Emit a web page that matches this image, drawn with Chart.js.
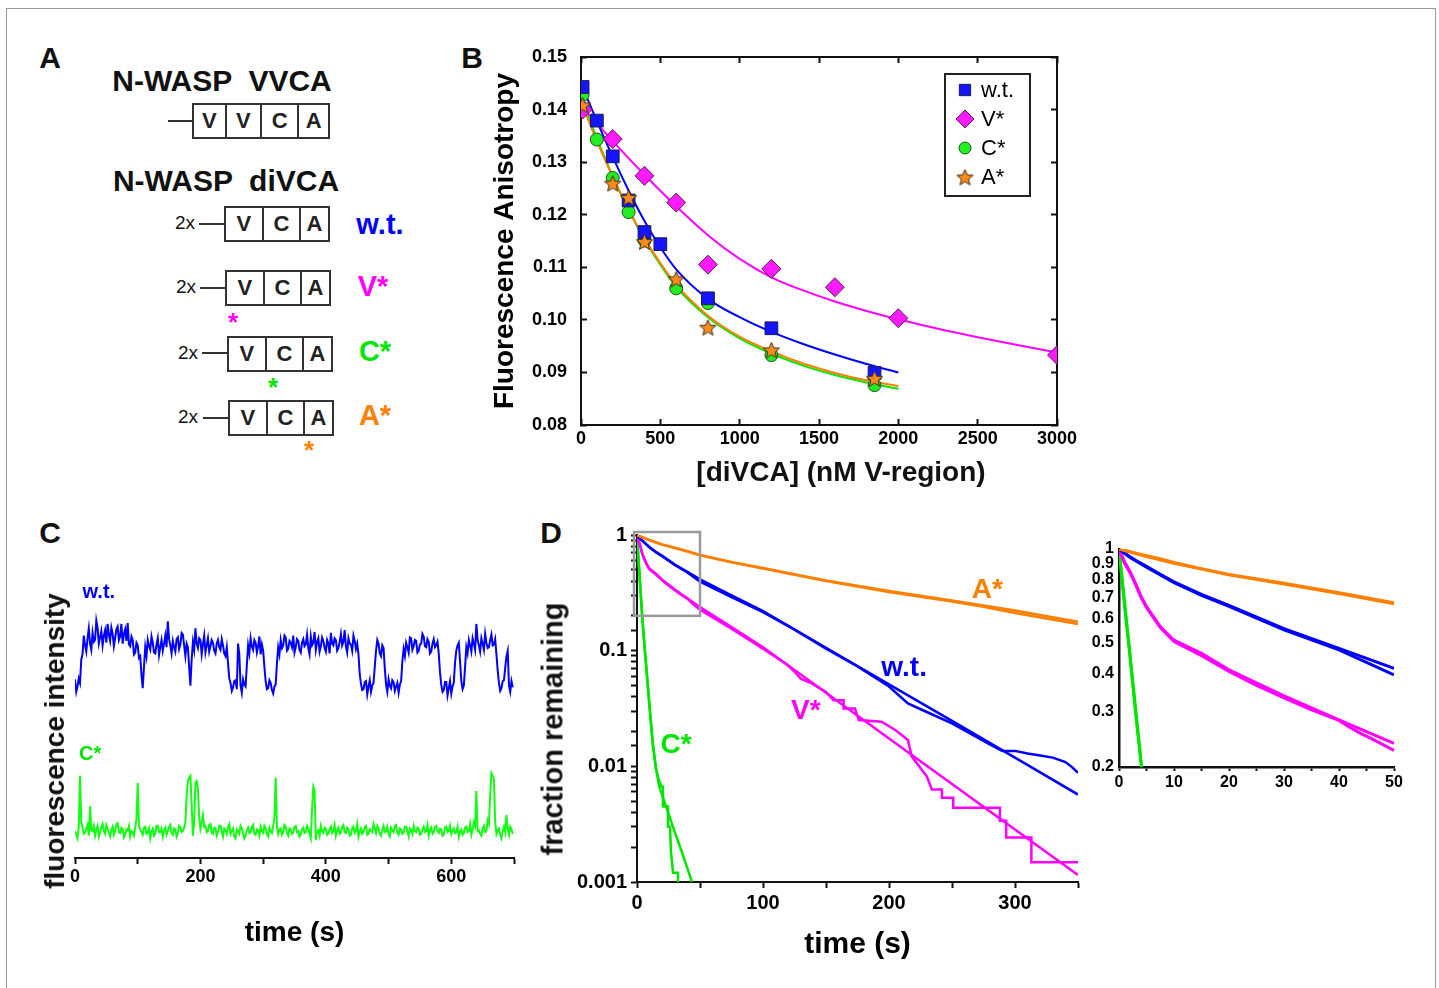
<!DOCTYPE html>
<html lang="en">

<head>
    <meta charset="UTF-8">
    <title>N-WASP diVCA</title>
    <script src="https://cdn.jsdelivr.net/npm/chart.js"></script>
    <style>
        body {
            margin: 0;
            background: #fff;
            font-family: "Liberation Sans", Arial, sans-serif;
            color: #111;
        }

        #page {
            position: relative;
            width: 1439px;
            height: 988px;
            overflow: hidden;
        }

        .frame {
            position: absolute;
            left: 6px;
            top: 8px;
            width: 1428px;
            height: 1000px;
            border: 1px solid #999;
        }

        canvas {
            position: absolute;
        }

        .t {
            position: absolute;
            transform: translate(-50%, -50%);
            white-space: pre;
            line-height: 1;
            font-weight: bold;
        }

        .panel { font-size: 30px; }
        .head { font-size: 30px; }
        .two { font-size: 19px; font-weight: normal; }
        .tag { font-size: 29px; }
        .star { font-size: 26px; }
        .ytitle { transform: translate(-50%, -50%) rotate(-90deg); }

        .stem {
            position: absolute;
            height: 2px;
            background: #333;
        }

        .box {
            position: absolute;
            display: flex;
            height: 36px;
            border: 2px solid #333;
            box-sizing: border-box;
        }

        .box span {
            display: flex;
            align-items: center;
            justify-content: center;
            border-left: 2px solid #333;
            font-weight: bold;
            font-size: 22px;
            color: #222;
        }

        .box span:first-child {
            border-left: none;
        }
    </style>
</head>

<body>
    <div id="page">
        <div class="frame"></div>

        <!-- panel letters -->
        <div class="t panel" style="left:50px;top:58px">A</div>
        <div class="t panel" style="left:472px;top:58px">B</div>
        <div class="t panel" style="left:50px;top:533px">C</div>
        <div class="t panel" style="left:551px;top:533px">D</div>

        <!-- panel A: constructs -->
        <div class="t head" style="left:222px;top:81px">N-WASP  VVCA</div>
        <div class="stem" style="left:168px;top:120px;width:25px"></div>
        <div class="box" style="left:192px;top:103px;width:138px">
            <span style="width:32px">V</span><span style="width:35px">V</span><span style="width:37px">C</span><span style="width:30px">A</span>
        </div>

        <div class="t head" style="left:226px;top:181px">N-WASP  diVCA</div>

        <div class="t two" style="left:185px;top:222px">2x</div>
        <div class="stem" style="left:199px;top:223px;width:25px"></div>
        <div class="box" style="left:224px;top:206px;width:106px">
            <span style="width:37px">V</span><span style="width:37px">C</span><span style="width:28px">A</span>
        </div>
        <div class="t tag" style="left:380px;top:224px;color:#0000ff">w.t.</div>

        <div class="t two" style="left:186px;top:286px">2x</div>
        <div class="stem" style="left:200px;top:287px;width:25px"></div>
        <div class="box" style="left:225px;top:270px;width:106px">
            <span style="width:37px">V</span><span style="width:37px">C</span><span style="width:28px">A</span>
        </div>
        <div class="t star" style="left:233px;top:322px;color:#ff00ff">*</div>
        <div class="t tag" style="left:373px;top:286px;color:#ff00ff">V*</div>

        <div class="t two" style="left:188px;top:352px">2x</div>
        <div class="stem" style="left:202px;top:352px;width:25px"></div>
        <div class="box" style="left:227px;top:336px;width:106px">
            <span style="width:37px">V</span><span style="width:37px">C</span><span style="width:28px">A</span>
        </div>
        <div class="t star" style="left:273px;top:387px;color:#00e600">*</div>
        <div class="t tag" style="left:375px;top:351px;color:#00e600">C*</div>

        <div class="t two" style="left:188px;top:416px">2x</div>
        <div class="stem" style="left:203px;top:417px;width:25px"></div>
        <div class="box" style="left:228px;top:400px;width:106px">
            <span style="width:37px">V</span><span style="width:37px">C</span><span style="width:28px">A</span>
        </div>
        <div class="t star" style="left:309px;top:450px;color:#ff8000">*</div>
        <div class="t tag" style="left:375px;top:415px;color:#ff8000">A*</div>

        <!-- charts -->
        <canvas id="chartB" width="620" height="460" style="left:470px;top:40px"></canvas>
        <div class="t" style="left:841px;top:472px;font-size:28px">[diVCA] (nM V-region)</div>

        <canvas id="chartC" width="500" height="380" style="left:30px;top:580px"></canvas>
        <div class="t ytitle" style="left:55px;top:741px;font-size:28px">fluorescence intensity</div>

        <canvas id="chartD" width="560" height="460" style="left:530px;top:515px"></canvas>
        <div class="t ytitle" style="left:553px;top:729px;font-size:29px">fraction remaining</div>

        <canvas id="chartInset" width="345" height="265" style="left:1085px;top:535px"></canvas>
    </div>

    <script>
        // ---- panel B: anisotropy vs [diVCA] ----
        const wtConc = [10, 100, 200, 300, 400, 500, 800, 1200, 1850];
        const wtAniso = [0.1443, 0.1379, 0.1311, 0.1227, 0.1167, 0.1144, 0.1041, 0.0984, 0.0899];
        const vConc = [10, 200, 400, 600, 800, 1200, 1600, 2000, 3000];
        const vAniso = [0.1400, 0.1344, 0.1274, 0.1223, 0.1105, 0.1097, 0.1062, 0.1003, 0.0933];
        const cConc = [10, 100, 200, 300, 400, 600, 800, 1200, 1850];
        const cAniso = [0.1428, 0.1343, 0.1270, 0.1205, 0.1151, 0.1060, 0.1032, 0.0933, 0.0876];
        const aConc = [10, 200, 300, 400, 600, 800, 1200, 1850];
        const aAniso = [0.1409, 0.1260, 0.1233, 0.1149, 0.1078, 0.0986, 0.0943, 0.0889];

        const fitConc = [0, 100, 200, 300, 400, 500, 600, 800, 1000, 1200, 1400, 1600, 1800, 2000];
        const wtFit = [0.1450, 0.1378, 0.1310, 0.1246, 0.1188, 0.1138, 0.1096, 0.1040, 0.1005, 0.0977, 0.0954, 0.0934, 0.0916, 0.0900];
        const cFit = [0.1425, 0.1345, 0.1273, 0.1209, 0.1153, 0.1105, 0.1063, 0.1005, 0.0965, 0.0936, 0.0913, 0.0895, 0.0881, 0.0869];
        const aFit = [0.1415, 0.1340, 0.1272, 0.1210, 0.1155, 0.1108, 0.1067, 0.1008, 0.0968, 0.0940, 0.0917, 0.0899, 0.0885, 0.0874];
        const vFitConc = [0, 200, 400, 600, 800, 1000, 1200, 1400, 1600, 1800, 2000, 2250, 2500, 2750, 3000];
        const vFit = [0.1408, 0.1340, 0.1276, 0.1216, 0.1161, 0.1116, 0.1081, 0.1056, 0.1035, 0.1017, 0.1001, 0.0983, 0.0967, 0.0952, 0.0938];

        // ---- panel C: single molecule traces, one sample every 2 s ----
        const traceStep = 2;
        const wtTrace = [
            200, 186, 192, 201, 196, 222, 228, 249, 238, 231, 246, 257, 240, 233, 252, 242, 244, 266, 258, 240,
            247, 254, 238, 249, 255, 241, 262, 250, 243, 258, 251, 237, 246, 256, 259, 244, 248, 262, 240, 251,
            256, 243, 263, 239, 237, 248, 244, 228, 230, 241, 238, 224, 226, 205, 190, 214, 236, 226, 244, 237,
            233, 248, 241, 230, 229, 239, 246, 227, 236, 244, 232, 240, 249, 236, 265, 245, 238, 229, 243, 236,
            231, 245, 247, 234, 239, 252, 250, 238, 226, 240, 236, 214, 193, 222, 242, 233, 257, 240, 235, 246,
            244, 228, 239, 249, 230, 238, 246, 231, 237, 244, 241, 232, 229, 240, 244, 236, 233, 245, 238, 229,
            226, 236, 218, 201, 196, 187, 191, 198, 199, 189, 240, 228, 193, 185, 200, 194, 192, 216, 238, 229,
            246, 237, 233, 244, 241, 230, 237, 248, 228, 239, 232, 214, 198, 189, 190, 199, 196, 188, 184, 192,
            194, 218, 236, 228, 244, 235, 238, 249, 247, 232, 234, 243, 241, 236, 249, 230, 236, 245, 243, 233,
            230, 241, 245, 237, 239, 250, 235, 228, 248, 238, 241, 253, 233, 242, 246, 231, 237, 247, 243, 235,
            231, 244, 240, 229, 252, 240, 238, 246, 244, 232, 235, 242, 251, 238, 242, 255, 237, 230, 246, 240,
            239, 232, 249, 243, 234, 240, 228, 206, 195, 188, 189, 197, 198, 183, 192, 199, 186, 193, 196, 214,
            232, 244, 240, 229, 226, 238, 235, 212, 194, 186, 200, 193, 190, 199, 197, 187, 192, 196, 185, 194,
            198, 220, 234, 226, 241, 236, 230, 247, 246, 233, 237, 244, 243, 230, 232, 239, 240, 251, 248, 237,
            236, 245, 242, 229, 231, 240, 245, 236, 238, 242, 229, 208, 194, 186, 188, 197, 197, 182, 190, 198,
            184, 192, 196, 219, 232, 238, 241, 220, 198, 189, 193, 214, 236, 229, 244, 238, 231, 246, 240, 233,
            262, 244, 238, 231, 246, 240, 233, 251, 241, 235, 236, 244, 250, 238, 239, 245, 228, 210, 196, 187,
            190, 198, 199, 213, 226, 232, 193, 186, 198, 191];
        const cTrace = [
            30, 26, 22, 35, 92, 40, 34, 27, 28, 33, 37, 25, 58, 31, 30, 36, 25, 32, 36, 24,
            29, 34, 38, 30, 27, 37, 33, 28, 24, 31, 35, 26, 30, 38, 39, 29, 28, 34, 33, 23,
            26, 32, 31, 36, 24, 30, 29, 25, 34, 44, 84, 36, 32, 29, 26, 34, 35, 27, 28, 33,
            22, 30, 33, 25, 27, 36, 36, 29, 29, 33, 24, 31, 34, 26, 30, 35, 37, 28, 26, 33,
            32, 24, 28, 36, 35, 29, 30, 34, 40, 70, 86, 90, 92, 60, 25, 40, 84, 86, 78, 45,
            33, 40, 48, 35, 36, 29, 30, 37, 38, 28, 27, 34, 34, 25, 29, 36, 36, 30, 24, 33,
            31, 27, 35, 38, 27, 30, 33, 24, 22, 32, 30, 27, 36, 33, 28, 22, 25, 31, 34, 28,
            29, 35, 37, 27, 26, 32, 31, 25, 35, 30, 28, 36, 33, 27, 24, 34, 30, 28, 36, 45,
            90, 35, 27, 32, 33, 26, 29, 37, 35, 28, 25, 33, 32, 27, 28, 35, 36, 29, 30, 24,
            26, 32, 34, 28, 29, 36, 33, 27, 22, 55, 80, 76, 20, 30, 31, 25, 36, 30, 28, 34,
            33, 26, 27, 32, 35, 28, 30, 37, 25, 31, 34, 27, 29, 35, 37, 29, 28, 34, 32, 25,
            26, 33, 35, 28, 30, 38, 24, 30, 33, 27, 29, 35, 36, 26, 27, 32, 31, 29, 38, 33,
            28, 36, 33, 27, 25, 32, 36, 29, 30, 35, 27, 24, 34, 31, 29, 36, 37, 28, 26, 33,
            32, 27, 28, 35, 35, 30, 24, 33, 31, 27, 36, 30, 29, 34, 33, 26, 27, 32, 35, 29,
            30, 37, 25, 31, 34, 27, 29, 35, 36, 30, 28, 33, 32, 25, 26, 34, 35, 29, 30, 36,
            27, 31, 33, 28, 29, 35, 24, 30, 32, 26, 28, 34, 35, 29, 30, 38, 26, 32, 40, 36,
            75, 30, 31, 27, 25, 33, 36, 29, 30, 42, 38, 70, 95, 92, 88, 40, 27, 31, 33, 26,
            22, 30, 35, 29, 48, 33, 26, 35, 32, 27];

        // ---- panel D: dwell time survival ----
        const fitT = [0, 1, 2, 3, 4, 5, 7.5, 10, 15, 20, 30, 40, 50, 75, 100, 150, 200, 250, 300, 350];
        const wtSurvFit = [1, 0.97, 0.945, 0.92, 0.9, 0.88, 0.83, 0.785, 0.715, 0.66, 0.555, 0.48, 0.414, 0.3, 0.22, 0.106, 0.0511, 0.0247, 0.0119, 0.0057];
        const vSurvFit = [1, 0.91, 0.848, 0.777, 0.705, 0.654, 0.564, 0.51, 0.463, 0.41, 0.338, 0.283, 0.238, 0.16, 0.107, 0.0432, 0.0174, 0.00704, 0.00284, 0.00115];
        const aSurvFit = [1, 0.99, 0.98, 0.97, 0.96, 0.952, 0.93, 0.905, 0.865, 0.828, 0.776, 0.724, 0.672, 0.585, 0.518, 0.405, 0.328, 0.272, 0.222, 0.178];
        const cFitT = [0, 1, 2, 3, 4, 5, 6, 7.5, 10, 12.5, 15, 17.5, 20, 25, 30, 35, 40, 43.6];
        const cSurvFit = [1, 0.68, 0.46, 0.31, 0.21, 0.15, 0.11, 0.07, 0.033, 0.016, 0.0098, 0.0068, 0.0056, 0.0039, 0.0027, 0.0019, 0.00131, 0.001];

        const wtDataT = [0, 2, 5, 10, 15, 20, 30, 40, 50, 75, 100, 125, 150, 175, 200, 215, 230, 250, 265, 280, 290, 300, 310, 320, 330, 340, 345, 350];
        const wtSurv = [1, 0.94, 0.875, 0.78, 0.71, 0.655, 0.55, 0.475, 0.395, 0.29, 0.215, 0.152, 0.104, 0.073, 0.049, 0.035, 0.0295, 0.0235, 0.0191, 0.0155, 0.0136, 0.0136, 0.0129, 0.0124, 0.0119, 0.0109, 0.0099, 0.0088];
        const vDataT = [0, 1, 2, 3, 4, 5, 7.5, 10, 15, 20, 25, 30, 35, 40, 42, 44, 46, 50, 75, 100, 119, 125, 130, 139, 150, 156,
            164, 164, 173, 176, 194, 205, 215, 218, 226, 230, 234, 242, 242, 251, 251, 288, 288, 293, 293, 313, 313, 350];
        const vSurv = [1, 0.9, 0.84, 0.77, 0.7, 0.65, 0.56, 0.505, 0.455, 0.405, 0.365, 0.333, 0.305, 0.282, 0.268, 0.256, 0.246, 0.226, 0.155, 0.104, 0.0759, 0.066, 0.0572, 0.0518, 0.044, 0.0373,
            0.0373, 0.0316, 0.0316, 0.0251, 0.0243, 0.0206, 0.0169, 0.0122, 0.00936, 0.0082, 0.0063, 0.0063, 0.00535, 0.00535, 0.00439, 0.00439, 0.00338, 0.00338, 0.00243, 0.00243, 0.00148, 0.00148];
        const aDataT = [0, 2, 5, 10, 15, 20, 30, 40, 50, 75, 100, 150, 200, 250, 275, 300, 325, 350];
        const aSurv = [1, 0.978, 0.946, 0.9, 0.862, 0.826, 0.772, 0.72, 0.668, 0.58, 0.512, 0.4, 0.322, 0.266, 0.24, 0.212, 0.19, 0.17];
        const cDataT = [0, 1, 2, 3, 4, 5, 6, 7.5, 10, 12.5, 15, 17.5, 19.6, 20.6, 20.6, 24.6, 24.6, 26.2, 27, 28.6, 32.5, 32.5];
        const cSurv = [1, 0.66, 0.45, 0.3, 0.205, 0.148, 0.108, 0.068, 0.032, 0.0155, 0.0095, 0.0075, 0.0067, 0.0067, 0.0045, 0.0045, 0.003, 0.003, 0.0018, 0.0012, 0.0012, 0.001];

        const decadeLabels = ['1', '0.1', '0.01', '0.001'];
        const insetTicks = [0.2, 0.3, 0.4, 0.5, 0.6, 0.7, 0.8, 0.9, 1];
        const insetLabels = ['0.2', '0.3', '0.4', '0.5', '0.6', '0.7', '0.8', '0.9', '1'];

        const BLUE = '#0000ff', MAGENTA = '#ff00ff', GREEN = '#00e600', ORANGE = '#ff8000';
        const FONT = '"Liberation Sans", Arial, sans-serif';

        Chart.defaults.font.family = FONT;
        Chart.defaults.color = '#000';
        Chart.defaults.animation = false;

        function pts(xs, ys) {
            return xs.map((x, i) => ({ x: x, y: ys[i] }));
        }

        // fixed axis size, and no extra room for overhanging labels
        function fixSize(prop, size) {
            return s => {
                s[prop] = size;
                s.paddingLeft = s.paddingRight = s.paddingTop = s.paddingBottom = 0;
            };
        }

        function starImage(size, fill) {
            const c = document.createElement('canvas');
            c.width = size;
            c.height = size;
            const g = c.getContext('2d');
            const r = size / 2 - 1, ri = r * 0.45, cx = size / 2, cy = size / 2 + 1;
            g.beginPath();
            for (let k = 0; k < 10; k++) {
                const rr = k % 2 ? ri : r;
                const a = -Math.PI / 2 + k * Math.PI / 5;
                g.lineTo(cx + rr * Math.cos(a), cy + rr * Math.sin(a));
            }
            g.closePath();
            g.fillStyle = fill;
            g.fill();
            g.strokeStyle = '#3a2a1a';
            g.lineWidth = 1;
            g.stroke();
            return c;
        }

        // text labels placed at data coordinates
        function notes(items) {
            return {
                id: 'notes',
                afterDatasetsDraw(chart) {
                    const ctx = chart.ctx;
                    ctx.save();
                    ctx.textAlign = 'center';
                    ctx.textBaseline = 'middle';
                    items.forEach(n => {
                        ctx.font = n.font;
                        ctx.fillStyle = n.color;
                        ctx.fillText(n.text, chart.scales.x.getPixelForValue(n.x), chart.scales.y.getPixelForValue(n.y));
                    });
                    ctx.restore();
                }
            };
        }

        function axisLine(extra) {
            return Object.assign({
                drawOnChartArea: false,
                color: '#111',
                tickColor: '#111',
                tickWidth: 2,
                tickLength: 6
            }, extra || {});
        }

        // ---------- B ----------
        const legendBox = {
            id: 'legendBox',
            afterDraw(chart) {
                const ctx = chart.ctx;
                const area = chart.chartArea;
                const w = 85, h = 122;
                const left = area.right - 27 - w, top = area.top + 17;
                ctx.save();
                ctx.lineWidth = 2;
                ctx.strokeStyle = '#222';
                ctx.strokeRect(left, top, w, h);
                ctx.font = '22px ' + FONT;
                ctx.textBaseline = 'middle';
                chart.data.datasets.filter(d => d.inLegend).forEach((d, k) => {
                    const y = top + 16 + k * 29;
                    ctx.fillStyle = d.backgroundColor;
                    ctx.strokeStyle = d.borderColor;
                    ctx.lineWidth = 1;
                    Chart.helpers.drawPoint(ctx, { pointStyle: d.pointStyle, radius: d.legendRadius, rotation: 0, borderWidth: 1 }, left + 20, y);
                    ctx.fillStyle = '#000';
                    ctx.fillText(d.label, left + 36, y + 1);
                });
                ctx.restore();
            }
        };

        function fitSet(xs, ys, color) {
            return {
                type: 'line',
                data: pts(xs, ys),
                borderColor: color,
                borderWidth: 2,
                pointRadius: 0,
                cubicInterpolationMode: 'monotone',
                showLine: true,
                order: 2
            };
        }

        const inward = axisLine({ tickLength: -6 });

        new Chart(document.getElementById('chartB'), {
            type: 'scatter',
            data: {
                datasets: [
                    fitSet(fitConc, wtFit, BLUE),
                    fitSet(vFitConc, vFit, MAGENTA),
                    fitSet(fitConc, aFit, ORANGE),
                    fitSet(fitConc, cFit, GREEN),
                    {
                        label: 'w.t.', data: pts(wtConc, wtAniso), inLegend: true, legendRadius: 8,
                        pointStyle: 'rect', pointRadius: 9, backgroundColor: '#1414ff', borderColor: '#1a1a50', borderWidth: 1, order: 1
                    },
                    {
                        label: 'V*', data: pts(vConc, vAniso), inLegend: true, legendRadius: 9,
                        pointStyle: 'rectRot', pointRadius: 9.5, backgroundColor: '#ff1aff', borderColor: '#502050', borderWidth: 1, order: 1
                    },
                    {
                        label: 'C*', data: pts(cConc, cAniso), inLegend: true, legendRadius: 6,
                        pointStyle: 'circle', pointRadius: 6.5, backgroundColor: '#22ee22', borderColor: '#205020', borderWidth: 1, order: 1
                    },
                    {
                        label: 'A*', data: pts(aConc, aAniso), inLegend: true, legendRadius: 9,
                        pointStyle: starImage(19, '#ff8c1a'), pointRadius: 9, backgroundColor: '#ff8c1a', borderColor: '#3a2a1a', borderWidth: 1, order: 0
                    }
                ]
            },
            options: {
                responsive: false,
                layout: { padding: { top: 17, right: 33, left: 0, bottom: 0 } },
                plugins: { legend: { display: false }, tooltip: { enabled: false } },
                scales: {
                    x: {
                        type: 'linear', position: 'bottom', min: 0, max: 3000,
                        ticks: { stepSize: 500, padding: 9, font: { size: 18, weight: 'bold' }, callback: v => String(v) },
                        grid: inward,
                        border: { color: '#111', width: 2 },
                        afterFit: fixSize('height', 75)
                    },
                    y: {
                        type: 'linear', position: 'left', min: 0.08, max: 0.15,
                        ticks: { stepSize: 0.01, padding: 20, font: { size: 18, weight: 'bold' }, callback: v => v.toFixed(2) },
                        grid: inward,
                        border: { color: '#111', width: 2 },
                        title: { display: true, text: 'Fluorescence Anisotropy', font: { size: 28, weight: 'bold' }, padding: { top: 18, bottom: 0 } },
                        afterFit: fixSize('width', 111)
                    },
                    x2: {
                        type: 'linear', position: 'top', min: 0, max: 3000,
                        ticks: { stepSize: 500, display: false },
                        grid: inward,
                        border: { color: '#111', width: 2 },
                        afterFit: fixSize('height', 0)
                    },
                    y2: {
                        type: 'linear', position: 'right', min: 0.08, max: 0.15,
                        ticks: { stepSize: 0.01, display: false },
                        grid: inward,
                        border: { color: '#111', width: 2 },
                        afterFit: fixSize('width', 0)
                    }
                }
            },
            plugins: [legendBox]
        });

        // ---------- C ----------
        function traceSet(values, color) {
            return {
                data: values.map((v, i) => ({ x: i * traceStep, y: v })),
                borderColor: color,
                borderWidth: 2,
                pointRadius: 0,
                tension: 0
            };
        }

        new Chart(document.getElementById('chartC'), {
            type: 'line',
            data: { datasets: [traceSet(wtTrace, BLUE), traceSet(cTrace, '#11ff11')] },
            options: {
                responsive: false,
                layout: { padding: { top: 10, right: 16, left: 45, bottom: 0 } },
                plugins: { legend: { display: false }, tooltip: { enabled: false } },
                scales: {
                    x: {
                        type: 'linear', min: 0, max: 700,
                        ticks: { stepSize: 100, autoSkip: false, maxRotation: 0, padding: 2, font: { size: 18, weight: 'bold' }, callback: v => v % 200 === 0 ? String(v) : '' },
                        grid: axisLine(),
                        border: { color: '#111', width: 2 },
                        title: { display: true, text: 'time (s)', font: { size: 28, weight: 'bold' }, padding: { top: 0, bottom: 10 } },
                        afterFit: fixSize('height', 102)
                    },
                    y: { display: false, min: 0, max: 300 }
                }
            },
            plugins: [notes([
                { text: 'w.t.', x: 38, y: 297, color: BLUE, font: 'bold 20px ' + FONT },
                { text: 'C*', x: 24, y: 116, color: GREEN, font: 'bold 20px ' + FONT }
            ])]
        });

        // ---------- D ----------
        function survSet(xs, ys, color, width) {
            return {
                data: pts(xs, ys),
                borderColor: color,
                borderWidth: width,
                pointRadius: 0,
                tension: 0
            };
        }

        function survSets(width) {
            return [
                survSet(aDataT, aSurv, ORANGE, width),
                survSet(fitT, aSurvFit, ORANGE, width),
                survSet(wtDataT, wtSurv, BLUE, width),
                survSet(fitT, wtSurvFit, BLUE, width),
                survSet(vDataT, vSurv, MAGENTA, width),
                survSet(fitT, vSurvFit, MAGENTA, width),
                survSet(cDataT, cSurv, GREEN, width),
                survSet(cFitT, cSurvFit, GREEN, width)
            ];
        }

        function decadeLabel(v) {
            const e = Math.log10(v);
            if (Math.abs(e - Math.round(e)) > 1e-6) return '';
            return decadeLabels[-Math.round(e)] || '';
        }

        const zoomBox = {
            id: 'zoomBox',
            afterDatasetsDraw(chart) {
                const x = chart.scales.x, y = chart.scales.y;
                const x0 = x.getPixelForValue(0) - 3, x1 = x.getPixelForValue(50);
                const y0 = y.getPixelForValue(1) - 3, y1 = y.getPixelForValue(0.2);
                const ctx = chart.ctx;
                ctx.save();
                ctx.strokeStyle = '#9a9a9a';
                ctx.lineWidth = 2.5;
                ctx.strokeRect(x0, y0, x1 - x0, y1 - y0);
                ctx.restore();
            }
        };

        new Chart(document.getElementById('chartD'), {
            type: 'line',
            data: { datasets: survSets(2.5) },
            options: {
                responsive: false,
                layout: { padding: { top: 20, right: 12, left: 0, bottom: 0 } },
                plugins: { legend: { display: false }, tooltip: { enabled: false } },
                scales: {
                    x: {
                        type: 'linear', min: 0, max: 350,
                        ticks: { stepSize: 50, autoSkip: false, maxRotation: 0, padding: 3, font: { size: 20, weight: 'bold' }, callback: v => v % 100 === 0 ? String(v) : '' },
                        grid: axisLine(),
                        border: { color: '#111', width: 2 },
                        title: { display: true, text: 'time (s)', font: { size: 30, weight: 'bold' }, padding: { top: 0, bottom: 12 } },
                        afterFit: fixSize('height', 93)
                    },
                    y: {
                        type: 'logarithmic', min: 0.001, max: 1,
                        ticks: { autoSkip: false, padding: 4, font: { size: 20, weight: 'bold' }, callback: v => decadeLabel(v) },
                        grid: axisLine(),
                        border: { color: '#111', width: 2 },
                        afterFit: fixSize('width', 107)
                    }
                }
            },
            plugins: [zoomBox, notes([
                { text: 'A*', x: 278, y: 0.336, color: ORANGE, font: 'bold 28px ' + FONT },
                { text: 'w.t.', x: 212, y: 0.071, color: BLUE, font: 'bold 28px ' + FONT },
                { text: 'V*', x: 134, y: 0.0298, color: MAGENTA, font: 'bold 28px ' + FONT },
                { text: 'C*', x: 31, y: 0.0152, color: GREEN, font: 'bold 28px ' + FONT }
            ])]
        });

        // inset: first 50 s
        new Chart(document.getElementById('chartInset'), {
            type: 'line',
            data: { datasets: survSets(3) },
            options: {
                responsive: false,
                layout: { padding: { top: 14, right: 36, left: 0, bottom: 0 } },
                plugins: { legend: { display: false }, tooltip: { enabled: false } },
                scales: {
                    x: {
                        type: 'linear', min: 0, max: 50,
                        ticks: { stepSize: 5, autoSkip: false, maxRotation: 0, padding: 2, font: { size: 16, weight: 'bold' }, callback: v => v % 10 === 0 ? String(v) : '' },
                        grid: axisLine({ tickLength: 4 }),
                        border: { color: '#111', width: 2.5 },
                        afterFit: fixSize('height', 33)
                    },
                    y: {
                        type: 'logarithmic', min: 0.2, max: 1,
                        afterBuildTicks: s => { s.ticks = insetTicks.map(v => ({ value: v })); },
                        ticks: { autoSkip: false, padding: 5, font: { size: 16, weight: 'bold' }, callback: (v, i) => insetLabels[i] },
                        grid: axisLine({ drawTicks: false }),
                        border: { color: '#111', width: 2.5 },
                        afterFit: fixSize('width', 34)
                    }
                }
            }
        });
    </script>
</body>

</html>
